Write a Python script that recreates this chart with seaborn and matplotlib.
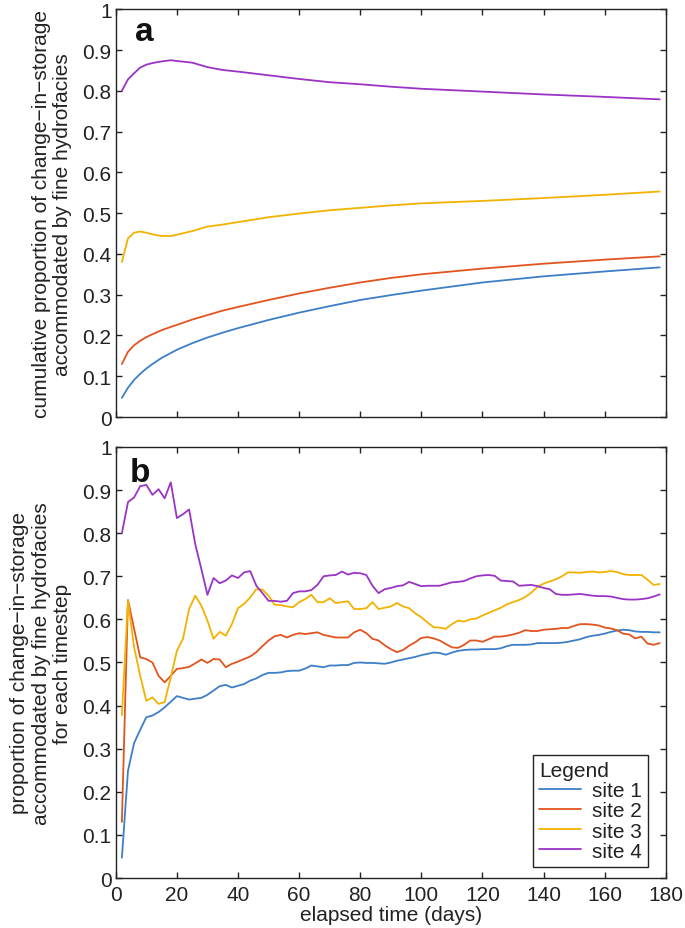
import numpy as np
import pandas as pd
import matplotlib
matplotlib.use("Agg")
import matplotlib.pyplot as plt
import seaborn as sns

# ---- data -------------------------------------------------------------
sites = ["site 1", "site 2", "site 3", "site 4"]
colors = ["#3d7fc6", "#e2531e", "#f2b200", "#9b33c4"]

# panel a: cumulative proportion
days_cum = [2, 4, 6, 8, 10, 12, 15, 18, 20, 25, 30, 35, 40, 50, 60, 70, 80,
            90, 100, 120, 140, 160, 178]
cum_site1 = [0.047, 0.072, 0.091, 0.106, 0.119, 0.130, 0.145, 0.157, 0.165,
             0.181, 0.195, 0.207, 0.218, 0.238, 0.256, 0.272, 0.287, 0.299,
             0.310, 0.330, 0.345, 0.357, 0.367]
cum_site2 = [0.130, 0.160, 0.176, 0.187, 0.196, 0.203, 0.213, 0.221, 0.226,
             0.239, 0.250, 0.261, 0.270, 0.287, 0.303, 0.317, 0.330, 0.341,
             0.350, 0.364, 0.376, 0.386, 0.394]
cum_site3 = [0.380, 0.438, 0.452, 0.455, 0.452, 0.448, 0.444, 0.444, 0.447,
             0.456, 0.467, 0.472, 0.478, 0.490, 0.499, 0.507, 0.513, 0.519,
             0.524, 0.530, 0.537, 0.545, 0.553]
cum_site4 = [0.800, 0.828, 0.843, 0.857, 0.864, 0.868, 0.872, 0.875, 0.873,
             0.869, 0.858, 0.851, 0.847, 0.838, 0.829, 0.821, 0.816, 0.810,
             0.805, 0.798, 0.791, 0.785, 0.779]

# panel b: proportion per timestep (every 2 days, day 2 .. 178)
days_step = list(range(2, 179, 2))
step_site1 = [0.047, 0.249, 0.313, 0.344, 0.373, 0.377, 0.385, 0.396, 0.409, 0.422,
              0.418, 0.414, 0.416, 0.418, 0.425, 0.435, 0.445, 0.448, 0.442, 0.446,
              0.450, 0.458, 0.463, 0.471, 0.476, 0.476, 0.477, 0.480, 0.481, 0.481,
              0.486, 0.493, 0.491, 0.489, 0.493, 0.493, 0.494, 0.494, 0.499, 0.500,
              0.499, 0.499, 0.498, 0.497, 0.500, 0.504, 0.507, 0.510, 0.513, 0.517,
              0.520, 0.523, 0.522, 0.518, 0.523, 0.527, 0.529, 0.530, 0.530, 0.531,
              0.531, 0.531, 0.533, 0.538, 0.541, 0.541, 0.541, 0.542, 0.545, 0.545,
              0.545, 0.545, 0.546, 0.548, 0.551, 0.554, 0.559, 0.562, 0.564, 0.567,
              0.571, 0.574, 0.576, 0.575, 0.572, 0.571, 0.571, 0.570, 0.570]
step_site2 = [0.130, 0.645, 0.578, 0.512, 0.508, 0.500, 0.469, 0.454, 0.469, 0.485,
              0.487, 0.490, 0.498, 0.507, 0.499, 0.508, 0.507, 0.489, 0.497, 0.502,
              0.508, 0.514, 0.524, 0.538, 0.551, 0.561, 0.564, 0.558, 0.564, 0.568,
              0.566, 0.568, 0.570, 0.564, 0.561, 0.558, 0.558, 0.558, 0.570, 0.576,
              0.568, 0.555, 0.551, 0.540, 0.531, 0.524, 0.529, 0.539, 0.547, 0.557,
              0.559, 0.556, 0.551, 0.543, 0.535, 0.534, 0.541, 0.551, 0.551, 0.548,
              0.554, 0.560, 0.560, 0.562, 0.565, 0.569, 0.575, 0.573, 0.573, 0.576,
              0.577, 0.578, 0.580, 0.580, 0.585, 0.589, 0.589, 0.588, 0.586, 0.581,
              0.579, 0.575, 0.567, 0.565, 0.556, 0.560, 0.544, 0.541, 0.545]
step_site3 = [0.378, 0.643, 0.535, 0.469, 0.411, 0.419, 0.404, 0.408, 0.466, 0.527,
              0.555, 0.624, 0.655, 0.632, 0.597, 0.555, 0.571, 0.562, 0.589, 0.626,
              0.636, 0.651, 0.670, 0.669, 0.655, 0.634, 0.633, 0.630, 0.628, 0.640,
              0.647, 0.657, 0.640, 0.640, 0.649, 0.638, 0.640, 0.642, 0.624, 0.624,
              0.626, 0.640, 0.624, 0.627, 0.630, 0.638, 0.630, 0.626, 0.614, 0.605,
              0.593, 0.582, 0.581, 0.578, 0.589, 0.597, 0.595, 0.600, 0.602, 0.609,
              0.615, 0.621, 0.627, 0.635, 0.640, 0.645, 0.652, 0.662, 0.675, 0.683,
              0.688, 0.693, 0.700, 0.709, 0.709, 0.708, 0.710, 0.711, 0.709, 0.710,
              0.712, 0.710, 0.705, 0.703, 0.703, 0.703, 0.692, 0.680, 0.682]
step_site4 = [0.800, 0.872, 0.883, 0.909, 0.912, 0.889, 0.902, 0.881, 0.918, 0.835,
              0.844, 0.855, 0.775, 0.717, 0.657, 0.696, 0.684, 0.690, 0.702, 0.696,
              0.709, 0.712, 0.678, 0.661, 0.643, 0.643, 0.641, 0.643, 0.661, 0.665,
              0.665, 0.668, 0.680, 0.700, 0.702, 0.703, 0.711, 0.704, 0.708, 0.707,
              0.703, 0.678, 0.661, 0.670, 0.673, 0.677, 0.679, 0.687, 0.682, 0.677,
              0.678, 0.678, 0.678, 0.682, 0.686, 0.687, 0.689, 0.695, 0.700, 0.702,
              0.703, 0.701, 0.690, 0.689, 0.688, 0.678, 0.679, 0.680, 0.677, 0.673,
              0.670, 0.659, 0.657, 0.657, 0.658, 0.659, 0.657, 0.655, 0.654, 0.654,
              0.653, 0.650, 0.647, 0.646, 0.646, 0.647, 0.649, 0.653, 0.658]

y_ticks = [0, 0.1, 0.2, 0.3, 0.4, 0.5, 0.6, 0.7, 0.8, 0.9, 1]
y_ticklabels = ["0", "0.1", "0.2", "0.3", "0.4", "0.5", "0.6", "0.7", "0.8", "0.9", "1"]
x_ticks = [0, 20, 40, 60, 80, 100, 120, 140, 160, 180]


def long_form(days, series):
    frames = [pd.DataFrame({"day": days, "value": vals, "site": name})
              for name, vals in zip(sites, series)]
    return pd.concat(frames, ignore_index=True)


df_cum = long_form(days_cum, [cum_site1, cum_site2, cum_site3, cum_site4])
df_step = long_form(days_step, [step_site1, step_site2, step_site3, step_site4])

# ---- style ------------------------------------------------------------
sns.set_style("ticks")
plt.rcParams["font.family"] = ["Liberation Sans", "DejaVu Sans"]
plt.rcParams.update({
    "axes.edgecolor": "#222222",
    "axes.linewidth": 1.0,
    "xtick.color": "#222222",
    "ytick.color": "#222222",
    "text.color": "#222222",
    "axes.labelcolor": "#222222",
})

fig = plt.figure(figsize=(6.85, 9.29), dpi=100)
ax_a = fig.add_axes([0.169, 0.550, 0.803, 0.439])
ax_b = fig.add_axes([0.169, 0.0538, 0.803, 0.464])

palette = dict(zip(sites, colors))
sns.lineplot(data=df_cum, x="day", y="value", hue="site", palette=palette,
             linewidth=1.3, ax=ax_a, legend=False)
sns.lineplot(data=df_step, x="day", y="value", hue="site", palette=palette,
             linewidth=1.3, ax=ax_b)

for ax in (ax_a, ax_b):
    ax.set_xlim(0, 180)
    ax.set_ylim(0, 1)
    ax.set_yticks(y_ticks)
    ax.set_yticklabels(y_ticklabels)
    ax.set_xticks(x_ticks)
    ax.tick_params(direction="in", top=True, right=True, length=4.5,
                   width=1.0, labelsize=15, pad=3)
    for s in ax.spines.values():
        s.set_visible(True)

ax_a.set_xticklabels([])
ax_a.set_xlabel("")
ax_b.set_xticklabels([str(t) for t in x_ticks])
ax_b.tick_params(axis="x", pad=5)
ax_b.set_xlabel("elapsed time (days)", fontsize=15, labelpad=1)

ax_a.set_ylabel("cumulative proportion of change\u2212in\u2212storage\n"
                "accommodated by fine hydrofacies", fontsize=15, linespacing=1.15)
ax_b.set_ylabel("proportion of change\u2212in\u2212storage\n"
                "accommodated by fine hydrofacies\nfor each timestep",
                fontsize=15, linespacing=1.15)
ax_a.yaxis.set_label_coords(-0.08, 0.5)
ax_b.yaxis.set_label_coords(-0.08, 0.5)

ax_a.text(0.035, 0.924, "a", transform=ax_a.transAxes, fontsize=24,
          fontweight="bold", va="baseline", ha="left", color="#111111")
ax_b.text(0.025, 0.921, "b", transform=ax_b.transAxes, fontsize=24,
          fontweight="bold", va="baseline", ha="left", color="#111111")

leg = ax_b.legend(title="Legend", loc="lower right", bbox_to_anchor=(0.967, 0.026),
                  borderaxespad=0, fontsize=15, title_fontsize=15,
                  frameon=True, fancybox=False, handlelength=2.0,
                  labelspacing=0.05, borderpad=0.3, handletextpad=0.5,
                  alignment="left")
leg.get_frame().set_edgecolor("#222222")
leg.get_frame().set_linewidth(1.0)
leg.get_frame().set_alpha(1)

fig.savefig("out.png", dpi=100)
